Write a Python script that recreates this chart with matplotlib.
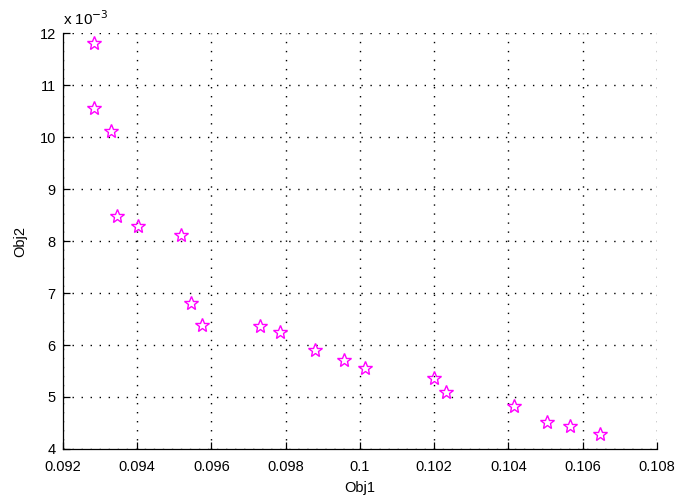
import matplotlib.pyplot as plt

# Dane (Obj2 w jednostkach 1e-3)
obj1 = [0.09284, 0.09284, 0.09329, 0.09345, 0.09402, 0.09519, 0.09546,
        0.09574, 0.09730, 0.09784, 0.09878, 0.09956, 0.10014, 0.10199,
        0.10231, 0.10415, 0.10503, 0.10565, 0.10647]
obj2 = [11.81, 10.56, 10.11, 8.48, 8.29, 8.12, 6.80,
        6.38, 6.37, 6.26, 5.90, 5.72, 5.55, 5.37,
        5.10, 4.83, 4.52, 4.45, 4.28]

xticks = [0.092, 0.094, 0.096, 0.098, 0.1, 0.102, 0.104, 0.106, 0.108]
xlabels = ['0.092', '0.094', '0.096', '0.098', '0.1', '0.102', '0.104', '0.106', '0.108']

plt.rcParams['font.family'] = ['Liberation Sans', 'DejaVu Sans']
plt.rcParams['font.size'] = 10.5

fig = plt.figure(figsize=(6.78, 4.95), dpi=100)
ax = fig.add_axes([0.0925, 0.093, 0.8765, 0.84])

ax.plot(obj1, obj2, linestyle='none', marker='*', markersize=10,
        markerfacecolor='none', markeredgecolor='magenta', markeredgewidth=1.0)

ax.set_xlim(0.092, 0.108)
ax.set_ylim(4, 12)
ax.set_xticks(xticks)
ax.set_xticklabels(xlabels)
ax.set_yticks(range(4, 13))

# siatka kropkowana, bez ramki z gory i z prawej
ax.grid(True, linestyle=(0, (1, 5.5)), color='black', linewidth=1.0)
ax.spines['top'].set_visible(False)
ax.spines['right'].set_visible(False)
ax.spines['left'].set_linewidth(0.9)
ax.spines['bottom'].set_linewidth(0.9)
ax.tick_params(direction='in', length=5, width=0.9)
ax.tick_params(axis='x', pad=8)
ax.tick_params(axis='y', pad=5)

ax.set_xlabel('Obj1', labelpad=5)
ax.set_ylabel('Obj2', labelpad=9)
ax.text(0, 1.012, r'x 10$^{-3}$', transform=ax.transAxes, ha='left', va='bottom', fontsize=11)

plt.savefig('out.png', dpi=100)
